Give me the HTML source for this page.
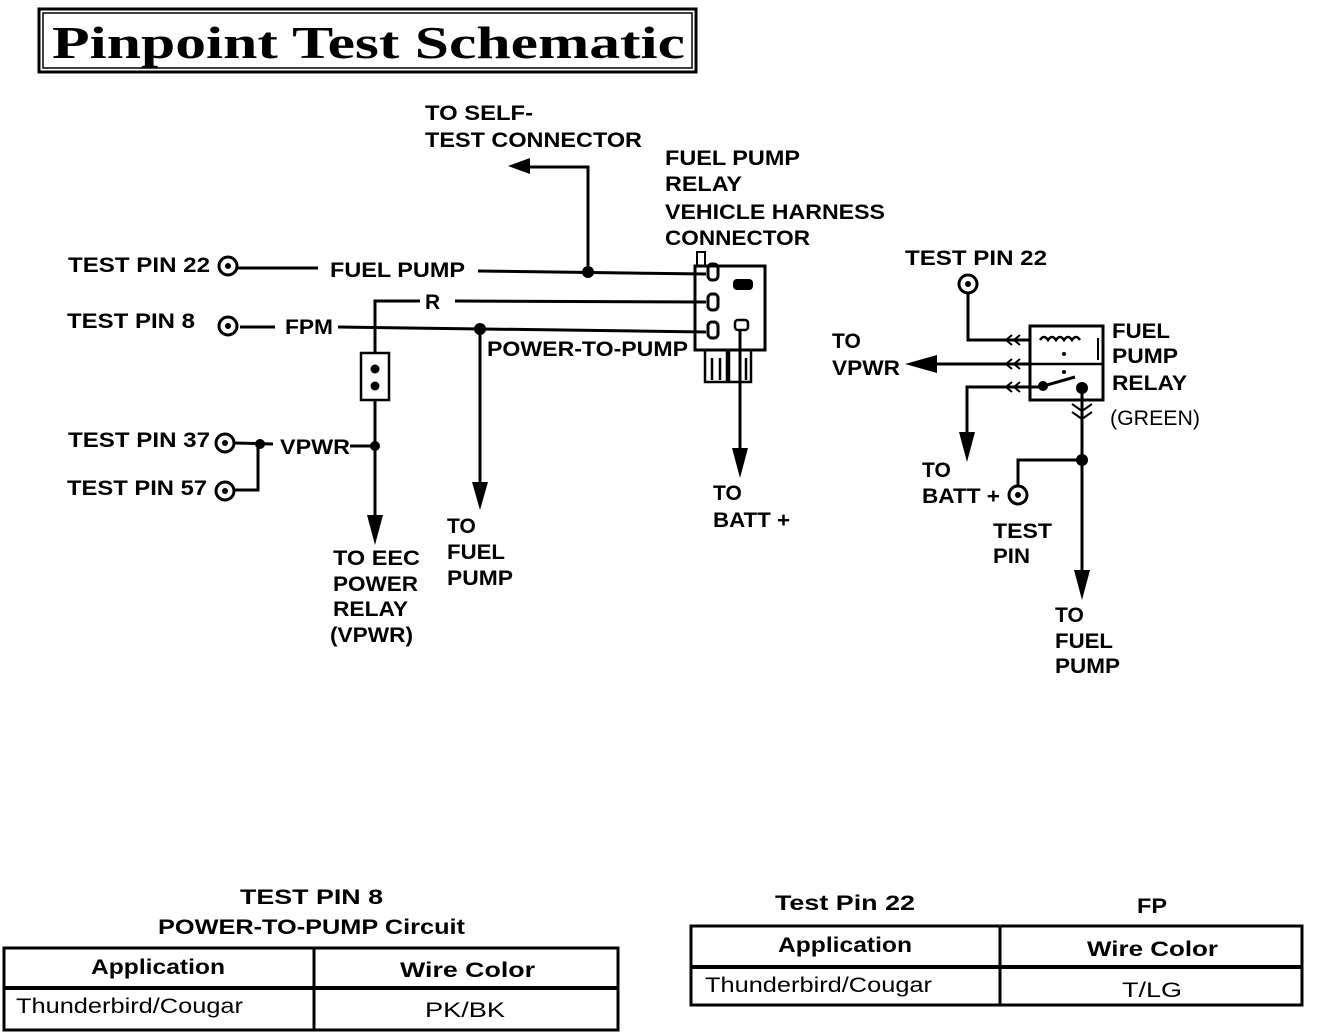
<!DOCTYPE html>
<html><head><meta charset="utf-8"><style>
html,body{margin:0;padding:0;background:#fff;}
svg{display:block}
text{font-family:"Liberation Sans",sans-serif;font-weight:bold;font-size:21px;fill:#000}
</style></head><body>
<svg width="1328" height="1034" viewBox="0 0 1328 1034" xmlns="http://www.w3.org/2000/svg">
<!-- Title -->
<rect x="39" y="9" width="657" height="63" fill="none" stroke="#000" stroke-width="3"/>
<rect x="43" y="13" width="649" height="55" fill="none" stroke="#000" stroke-width="1.5"/>
<text x="52" y="58" textLength="633" lengthAdjust="spacingAndGlyphs" style="font-family:'Liberation Serif',serif;font-size:46px;font-weight:bold">Pinpoint  Test  Schematic</text>

<g stroke="#000" stroke-width="3" fill="none">
<line x1="238" y1="268" x2="318" y2="268"/>
<line x1="478" y1="271" x2="706" y2="274"/>
<polyline points="588,272 588,167 525,167"/>
<polyline points="375,352 375,301 420,301"/>
<line x1="455" y1="301" x2="706" y2="302"/>
<line x1="375" y1="400" x2="375" y2="525"/>
<rect x="361" y="353" width="28" height="47" stroke-width="2.5"/>
<line x1="240" y1="327" x2="275" y2="327"/>
<line x1="338" y1="327" x2="706" y2="332"/>
<line x1="480" y1="330" x2="480" y2="490"/>
<line x1="235" y1="443" x2="273" y2="444"/>
<line x1="350" y1="446" x2="375" y2="446"/>
<polyline points="234,490 258,490 258,444"/>
<rect x="695" y="266" width="70" height="84" stroke-width="3"/>
<rect x="697" y="252" width="8" height="14" stroke-width="2"/>
<rect x="708" y="264" width="10" height="16" rx="4"/>
<rect x="708" y="294" width="10" height="16" rx="4"/>
<rect x="708" y="322" width="10" height="16" rx="4"/>
<rect x="735" y="320" width="13" height="10" rx="3" stroke-width="2.5"/>
<rect x="705" y="350" width="22" height="32" stroke-width="2.5"/>
<rect x="729" y="350" width="22" height="32" stroke-width="2.5"/>
<line x1="712" y1="358" x2="712" y2="380" stroke-width="2.5"/>
<line x1="720" y1="358" x2="720" y2="380" stroke-width="2.5"/>
<line x1="746" y1="358" x2="746" y2="380" stroke-width="2.5"/>
<line x1="740" y1="330" x2="740" y2="455"/>
<polyline points="968,292 968,340 1030,340"/>
<rect x="1030" y="326" width="73" height="74"/>
<line x1="1030" y1="364" x2="1103" y2="364" stroke-width="2.5"/>
<line x1="935" y1="364" x2="1030" y2="364"/>
<polyline points="967,437 967,387 1040,387 1075,377"/>
<line x1="1082" y1="387" x2="1082" y2="577"/>
<polyline points="1018,486 1018,460 1082,460"/>
<path d="M1040,340 q4,-6 8,0 q4,-6 8,0 q4,-6 8,0 q4,-6 8,0 q4,-6 8,0" stroke-width="2.5"/>
<line x1="1098" y1="338" x2="1098" y2="360" stroke-width="2"/>
<path d="M1012,335 l-6,5 l6,5 M1020,335 l-6,5 l6,5 M1012,359 l-6,5 l6,5 M1020,359 l-6,5 l6,5 M1012,382 l-6,5 l6,5 M1020,382 l-6,5 l6,5" stroke-width="2"/>
<path d="M1072,404 l10,7 l10,-7 M1072,412 l10,7 l10,-7" stroke-width="2"/>
</g>
<rect x="733" y="279" width="20" height="11" rx="4" fill="#000"/>
<circle cx="588" cy="272" r="6"/>
<circle cx="480" cy="329" r="6"/>
<circle cx="260" cy="444" r="5"/>
<circle cx="375" cy="446" r="5"/>
<circle cx="375" cy="369" r="4.5"/><circle cx="375" cy="386" r="4.5"/>
<circle cx="1082" cy="460" r="6"/>
<circle cx="1043" cy="386" r="5"/>
<circle cx="1082" cy="388" r="6"/>
<circle cx="1064" cy="354" r="2"/><circle cx="1064" cy="372" r="2"/>
<path d="M508,166 L530,158 L530,174 Z"/>
<path d="M375,545 L367,515 L383,515 Z"/>
<path d="M480,510 L472,482 L488,482 Z"/>
<path d="M740,478 L732,448 L748,448 Z"/>
<path d="M905,364 L937,355 L937,373 Z"/>
<path d="M967,462 L959,432 L975,432 Z"/>
<path d="M1082,600 L1074,570 L1090,570 Z"/>
<g fill="none" stroke="#000" stroke-width="3">
<circle cx="228" cy="266" r="9"/><circle cx="228" cy="326" r="9"/>
<circle cx="225" cy="443" r="9"/><circle cx="225" cy="491" r="9"/>
<circle cx="968" cy="284" r="9"/><circle cx="1018" cy="495" r="9"/>
</g>
<g fill="#000"><circle cx="228" cy="266" r="3"/><circle cx="228" cy="326" r="3"/><circle cx="225" cy="443" r="3"/><circle cx="225" cy="491" r="3"/><circle cx="968" cy="284" r="3"/><circle cx="1018" cy="495" r="3"/></g>

<g style="font-size:21px">
<text x="68" y="272" textLength="142" lengthAdjust="spacingAndGlyphs">TEST PIN 22</text>
<text x="330" y="277" textLength="135" lengthAdjust="spacingAndGlyphs">FUEL PUMP</text>
<text x="425" y="120" textLength="108" lengthAdjust="spacingAndGlyphs">TO SELF-</text>
<text x="425" y="147" textLength="217" lengthAdjust="spacingAndGlyphs">TEST CONNECTOR</text>
<text x="665" y="165" textLength="135" lengthAdjust="spacingAndGlyphs">FUEL PUMP</text>
<text x="665" y="191" textLength="77" lengthAdjust="spacingAndGlyphs">RELAY</text>
<text x="665" y="219" textLength="220" lengthAdjust="spacingAndGlyphs">VEHICLE HARNESS</text>
<text x="665" y="245" textLength="145" lengthAdjust="spacingAndGlyphs">CONNECTOR</text>
<text x="425" y="309">R</text>
<text x="67" y="328" textLength="128" lengthAdjust="spacingAndGlyphs">TEST PIN 8</text>
<text x="285" y="334" textLength="48" lengthAdjust="spacingAndGlyphs">FPM</text>
<text x="487" y="356" textLength="201" lengthAdjust="spacingAndGlyphs">POWER-TO-PUMP</text>
<text x="68" y="447" textLength="142" lengthAdjust="spacingAndGlyphs">TEST PIN 37</text>
<text x="67" y="495" textLength="140" lengthAdjust="spacingAndGlyphs">TEST PIN 57</text>
<text x="280" y="454" textLength="70" lengthAdjust="spacingAndGlyphs">VPWR</text>
<text x="333" y="565" textLength="87" lengthAdjust="spacingAndGlyphs">TO EEC</text>
<text x="333" y="591" textLength="85" lengthAdjust="spacingAndGlyphs">POWER</text>
<text x="333" y="616" textLength="75" lengthAdjust="spacingAndGlyphs">RELAY</text>
<text x="330" y="642" textLength="83" lengthAdjust="spacingAndGlyphs">(VPWR)</text>
<text x="447" y="533">TO</text>
<text x="447" y="559" textLength="58" lengthAdjust="spacingAndGlyphs">FUEL</text>
<text x="447" y="585" textLength="66" lengthAdjust="spacingAndGlyphs">PUMP</text>
<text x="713" y="500">TO</text>
<text x="713" y="527" textLength="77" lengthAdjust="spacingAndGlyphs">BATT +</text>
<text x="905" y="265" textLength="142" lengthAdjust="spacingAndGlyphs">TEST PIN 22</text>
<text x="832" y="348">TO</text>
<text x="832" y="375" textLength="68" lengthAdjust="spacingAndGlyphs">VPWR</text>
<text x="1112" y="338" textLength="58" lengthAdjust="spacingAndGlyphs">FUEL</text>
<text x="1112" y="363" textLength="66" lengthAdjust="spacingAndGlyphs">PUMP</text>
<text x="1112" y="390" textLength="75" lengthAdjust="spacingAndGlyphs">RELAY</text>
<text x="1110" y="425" textLength="90" lengthAdjust="spacingAndGlyphs" style="font-weight:normal">(GREEN)</text>
<text x="922" y="477">TO</text>
<text x="922" y="503" textLength="78" lengthAdjust="spacingAndGlyphs">BATT +</text>
<text x="993" y="538" textLength="59" lengthAdjust="spacingAndGlyphs">TEST</text>
<text x="993" y="563" textLength="37" lengthAdjust="spacingAndGlyphs">PIN</text>
<text x="1055" y="622">TO</text>
<text x="1055" y="648" textLength="58" lengthAdjust="spacingAndGlyphs">FUEL</text>
<text x="1055" y="673" textLength="65" lengthAdjust="spacingAndGlyphs">PUMP</text>
</g>

<text x="240" y="904" textLength="143" lengthAdjust="spacingAndGlyphs">TEST  PIN  8</text>
<text x="158" y="934" textLength="307" lengthAdjust="spacingAndGlyphs">POWER-TO-PUMP  Circuit</text>
<g fill="none" stroke="#000">
<rect x="4" y="948" width="614" height="82" stroke-width="3"/>
<line x1="4" y1="988" x2="618" y2="988" stroke-width="4"/>
<line x1="314" y1="948" x2="314" y2="1030" stroke-width="3"/>
<rect x="691" y="926" width="611" height="79" stroke-width="3"/>
<line x1="691" y1="967" x2="1302" y2="967" stroke-width="4"/>
<line x1="1000" y1="926" x2="1000" y2="1005" stroke-width="3"/>
</g>
<text x="91" y="974" textLength="134" lengthAdjust="spacingAndGlyphs">Application</text>
<text x="400" y="977" textLength="135" lengthAdjust="spacingAndGlyphs">Wire  Color</text>
<text x="16" y="1013" textLength="227" lengthAdjust="spacingAndGlyphs" style="font-weight:normal">Thunderbird/Cougar</text>
<text x="425" y="1017" textLength="80" lengthAdjust="spacingAndGlyphs" style="font-weight:normal">PK/BK</text>
<text x="775" y="910" textLength="140" lengthAdjust="spacingAndGlyphs">Test  Pin  22</text>
<text x="1137" y="913" textLength="30" lengthAdjust="spacingAndGlyphs">FP</text>
<text x="778" y="952" textLength="134" lengthAdjust="spacingAndGlyphs">Application</text>
<text x="1087" y="956" textLength="131" lengthAdjust="spacingAndGlyphs">Wire  Color</text>
<text x="705" y="992" textLength="227" lengthAdjust="spacingAndGlyphs" style="font-weight:normal">Thunderbird/Cougar</text>
<text x="1122" y="997" textLength="60" lengthAdjust="spacingAndGlyphs" style="font-weight:normal">T/LG</text>
</svg>
</body></html>
